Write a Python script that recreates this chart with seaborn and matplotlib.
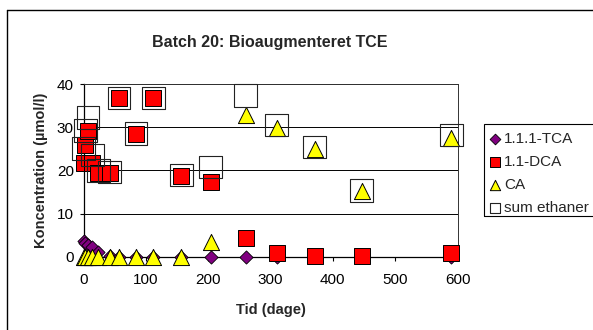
import matplotlib
matplotlib.use("Agg")
import matplotlib.pyplot as plt
import seaborn as sns
from matplotlib.lines import Line2D
from matplotlib.patches import Rectangle

# data (days, µmol/l)
days = [0, 3, 7, 14, 24, 42, 57, 84, 112, 157, 204, 260, 310, 371, 446, 590]
tca = [3.6, 3.2, 2.7, 2.2, 1.0, 0.1, 0, 0, 0, 0, 0, 0, 0, 0, 0, 0]
dca = [21.6, 25.9, 29.0, 21.6, 19.4, 19.4, 36.7, 28.4, 36.7, 18.8, 17.4, 4.3, 0.8, 0.2, 0.2, 0.8]
ca = [0, 0, 0, 0, 0, 0, 0, 0, 0, 0, 3.4, 32.8, 29.7, 24.9, 15.3, 27.4]
sum_eth = [25.0, 29.2, 32.3, 23.6, 19.9, 19.6, 36.8, 28.5, 36.8, 18.9, 20.8, 37.3, 30.5, 25.4, 15.4, 28.2]

labels = ["1.1.1-TCA", "1.1-DCA", "CA", "sum ethaner"]
x_ticks = [0, 100, 200, 300, 400, 500, 600]
y_ticks = [0, 10, 20, 30, 40]

sns.set_style("white")
plt.rcParams["font.family"] = ["Liberation Sans", "DejaVu Sans"]

W, H = 593, 330
fig = plt.figure(figsize=(W / 100, H / 100), dpi=100)
ax = fig.add_axes([83.5 / W, 1 - 256.7 / H, 374 / W, 172.7 / H])

# series, drawn in the Excel order
sns.scatterplot(x=days, y=tca, ax=ax, marker="D", s=45, color="#800080",
                edgecolor="black", linewidth=0.6, label=labels[0], clip_on=False, zorder=3)
sns.scatterplot(x=days, y=dca, ax=ax, marker="s", s=118, color="#ff0000",
                edgecolor="black", linewidth=0.7, label=labels[1], clip_on=False, zorder=4)
sns.scatterplot(x=days, y=ca, ax=ax, marker="^", s=135, color="#ffff00",
                edgecolor="black", linewidth=0.7, label=labels[2], clip_on=False, zorder=5)
sns.scatterplot(x=days, y=sum_eth, ax=ax, marker="s", s=265, facecolor="none",
                edgecolor="#222222", linewidth=0.8, label=labels[3], clip_on=False, zorder=6)

ax.set_xlim(0, 600)
ax.set_ylim(0, 40)
ax.set_xticks(x_ticks)
ax.set_yticks(y_ticks)
ax.yaxis.grid(True, color="black", linewidth=0.7)
ax.set_axisbelow(True)
for side in ["top", "right"]:
    ax.spines[side].set_color("#333333")
    ax.spines[side].set_linewidth(0.7)
for side in ["left", "bottom"]:
    ax.spines[side].set_color("black")
    ax.spines[side].set_linewidth(0.9)
ax.tick_params(axis="both", direction="out", length=3, width=0.8, color="black",
               labelsize=11, labelcolor="black", bottom=True, left=True)
ax.tick_params(axis="x", pad=9)
ax.tick_params(axis="y", pad=4)

ax.set_xlabel("Tid (dage)", fontsize=10.5, fontweight="bold", labelpad=11)
ax.set_ylabel("Koncentration (µmol/l)", fontsize=10.5, fontweight="bold", labelpad=6)
fig.text(270 / W, 1 - 42 / H, "Batch 20: Bioaugmenteret TCE", ha="center", va="center",
         fontsize=11.5, fontweight="bold")

# legend
leg = ax.legend(loc="upper left", bbox_to_anchor=(482 / W, 1 - 127 / H),
                bbox_transform=fig.transFigure, frameon=False, fontsize=11,
                borderaxespad=0, borderpad=0.3, handletextpad=0.05, handlelength=1.1,
                labelspacing=0.6)
for h, sz in zip(leg.legend_handles, [30, 60, 55, 60]):
    h.set_sizes([sz])
fig.add_artist(Rectangle((484 / W, 1 - 216 / H), 130 / W, 92 / H,
                         transform=fig.transFigure, facecolor="none",
                         edgecolor="black", linewidth=0.8, clip_on=False))

# outer chart frame
fig.add_artist(Line2D([7 / W, 7 / W], [0, 1 - 10 / H], transform=fig.transFigure,
                      color="black", linewidth=1.0))
fig.add_artist(Line2D([7 / W, 1], [1 - 10 / H, 1 - 10 / H], transform=fig.transFigure,
                      color="black", linewidth=1.0))

fig.savefig("out.png", dpi=100, facecolor="white")
